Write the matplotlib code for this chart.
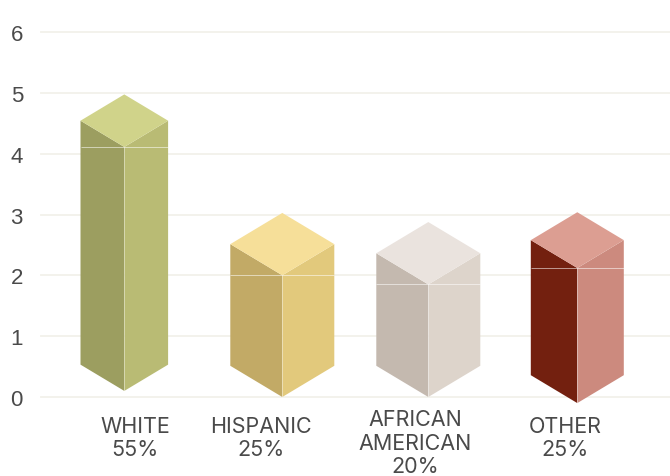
import matplotlib
matplotlib.use("Agg")
import matplotlib.pyplot as plt

categories = ["WHITE\n55%", "HISPANIC\n25%", "AFRICAN\nAMERICAN\n20%", "OTHER\n25%"]
tops = [4.11, 2.0, 1.85, 2.12]
bases = [0.10, 0.0, 0.0, -0.10]
y_ticks = [0, 1, 2, 3, 4, 5, 6]

left_colors = ["#9c9e60", "#c2aa66", "#c4b9af", "#73200f"]
right_colors = ["#b9bb74", "#e2c97c", "#ddd4cb", "#cc8a7e"]
cap_colors = ["#d0d38a", "#f6df99", "#eae3de", "#dc9e92"]

# bar layout, x is in pixels from the left of the figure
centers = [124.3, 282.3, 428.3, 577.3]
half_widths = [43.8, 52, 52, 46.5]
label_x = [135, 261, 415, 565]
label_y = [-0.67, -0.67, -0.75, -0.67]

W, H = 670, 477
PX_PER_UNIT = 60.83
SLOPE = 0.6  # rise of the cap edges per pixel of width

fig = plt.figure(figsize=(W / 100, H / 100), dpi=100)
ax = fig.add_axes([41 / W, (H - 398) / H, (W - 41) / W, 365 / H])
ax.set_xlim(41, W)
ax.set_ylim(0, 6)

ax.set_yticks(y_ticks)
ax.set_xticks([])
ax.tick_params(axis="y", length=0, pad=13, labelsize=16, labelcolor="#4a4a4a")
for lab in ax.get_yticklabels():
    lab.set_family("Liberation Sans")
ax.grid(axis="y", color="#f2f1ea", linewidth=1.3, zorder=0)
for line in ax.get_ygridlines():
    line.set_clip_on(False)
for spine in ax.spines.values():
    spine.set_visible(False)
ax.set_axisbelow(True)

for i in range(len(categories)):
    c = centers[i]
    hw = half_widths[i]
    rise = hw * SLOPE / PX_PER_UNIT
    top = tops[i]
    base = bases[i]

    ax.fill([c - hw, c, c, c - hw], [top + rise, top, base, base + rise],
            color=left_colors[i], lw=0, clip_on=False, zorder=3)
    ax.fill([c, c + hw, c + hw, c], [top, top + rise, base + rise, base],
            color=right_colors[i], lw=0, clip_on=False, zorder=3)
    ax.fill([c - hw, c, c + hw, c], [top + rise, top, top + rise, top + 2 * rise],
            color=cap_colors[i], lw=0, clip_on=False, zorder=4)

    # thin light seams across the front corner and down the middle
    ax.plot([c - hw, c + hw], [top, top], color="white", alpha=0.55, lw=0.7,
            clip_on=False, zorder=5, solid_capstyle="butt")
    ax.plot([c, c], [base, top], color="white", alpha=0.3, lw=0.7,
            clip_on=False, zorder=5, solid_capstyle="butt")

    ax.text(label_x[i], label_y[i], categories[i], ha="center", va="center",
            family="Inter", fontsize=15.5, color="#4a4a4a", linespacing=1.2,
            clip_on=False)

fig.savefig("out.png", dpi=100)
